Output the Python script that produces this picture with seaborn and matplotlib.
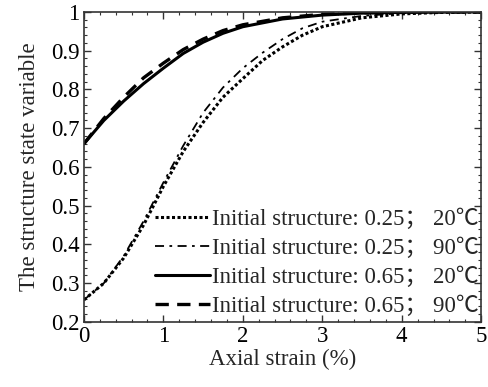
import matplotlib
matplotlib.use("Agg")
import matplotlib.pyplot as plt
import seaborn as sns
import pandas as pd
from matplotlib.ticker import MultipleLocator

sns.set_theme(style="ticks")
plt.rcParams['font.family'] = ['Liberation Serif', 'Noto Sans CJK SC']

strain_low = [0, 0.25, 0.5, 0.75, 1.0, 1.25, 1.5, 1.75, 2.0, 2.25, 2.5, 2.75, 3.0, 3.5, 4.0, 4.5, 5.0]
s025_20 = [0.257, 0.300, 0.365, 0.450, 0.550, 0.640, 0.715, 0.780, 0.828, 0.875, 0.910, 0.940, 0.962, 0.985, 0.995, 0.999, 1.0]
s025_90 = [0.257, 0.300, 0.370, 0.460, 0.560, 0.655, 0.740, 0.805, 0.855, 0.895, 0.930, 0.958, 0.975, 0.990, 0.997, 0.999, 1.0]

strain_high = [0, 0.25, 0.5, 0.75, 1.0, 1.25, 1.5, 1.75, 2.0, 2.5, 3.0, 3.5, 4.0, 4.5, 5.0]
s065_20 = [0.660, 0.720, 0.770, 0.815, 0.855, 0.893, 0.922, 0.945, 0.962, 0.982, 0.992, 0.997, 0.999, 1.0, 1.0]
s065_90 = [0.660, 0.725, 0.780, 0.830, 0.868, 0.903, 0.930, 0.952, 0.967, 0.985, 0.994, 0.998, 1.0, 1.0, 1.0]

labels = ["Initial structure: 0.25； 20℃",
          "Initial structure: 0.25； 90℃",
          "Initial structure: 0.65； 20℃",
          "Initial structure: 0.65； 90℃"]

FS = 16.5
fig = plt.figure(figsize=(4.88, 3.87), dpi=100)
ax = fig.add_axes([0.172, 0.168, 0.814, 0.801])

series = [
    (strain_low, s025_20, dict(linestyle=(0, (1.0, 0.8)), linewidth=2.2)),
    (strain_low, s025_90, dict(linestyle=(0, (5, 3, 1.5, 3)), linewidth=1.3)),
    (strain_high, s065_20, dict(linestyle='-', linewidth=2.2)),
    (strain_high, s065_90, dict(linestyle=(0, (4, 2.5)), linewidth=2.4)),
]
for (x, y, st), lab in zip(series, labels):
    df = pd.DataFrame({"x": x, "y": y})
    sns.lineplot(data=df, x="x", y="y", ax=ax, color='black', label=lab, **st)

ax.set_xlim(0, 5)
ax.set_ylim(0.2, 1.0)
ax.xaxis.set_major_locator(MultipleLocator(1))
ax.xaxis.set_minor_locator(MultipleLocator(0.2))
ax.set_yticks([0.2, 0.3, 0.4, 0.5, 0.6, 0.7, 0.8, 0.9, 1.0])
ax.set_yticklabels(["0.2", "0.3", "0.4", "0.5", "0.6", "0.7", "0.8", "0.9", "1"])
ax.yaxis.set_minor_locator(MultipleLocator(0.02))
ax.tick_params(which='both', direction='in', top=True, right=True, colors='#333333',
               labelcolor='black', labelsize=FS, pad=3)
ax.tick_params(which='major', length=5, width=1)
ax.tick_params(which='minor', length=2.5, width=0.8)
for sp in ax.spines.values():
    sp.set_color('#333333')
    sp.set_linewidth(1.2)

ax.set_xlabel("Axial strain (%)", fontsize=FS, labelpad=1)
ax.set_ylabel("The structure state variable", fontsize=FS, labelpad=8)

leg = ax.legend(loc='lower right', bbox_to_anchor=(1.0, 0.01), frameon=False, fontsize=FS,
                handlelength=2.4, handletextpad=0.1, labelspacing=0.33, borderpad=0.1,
                borderaxespad=0.0)

fig.savefig("out.png", dpi=100)
